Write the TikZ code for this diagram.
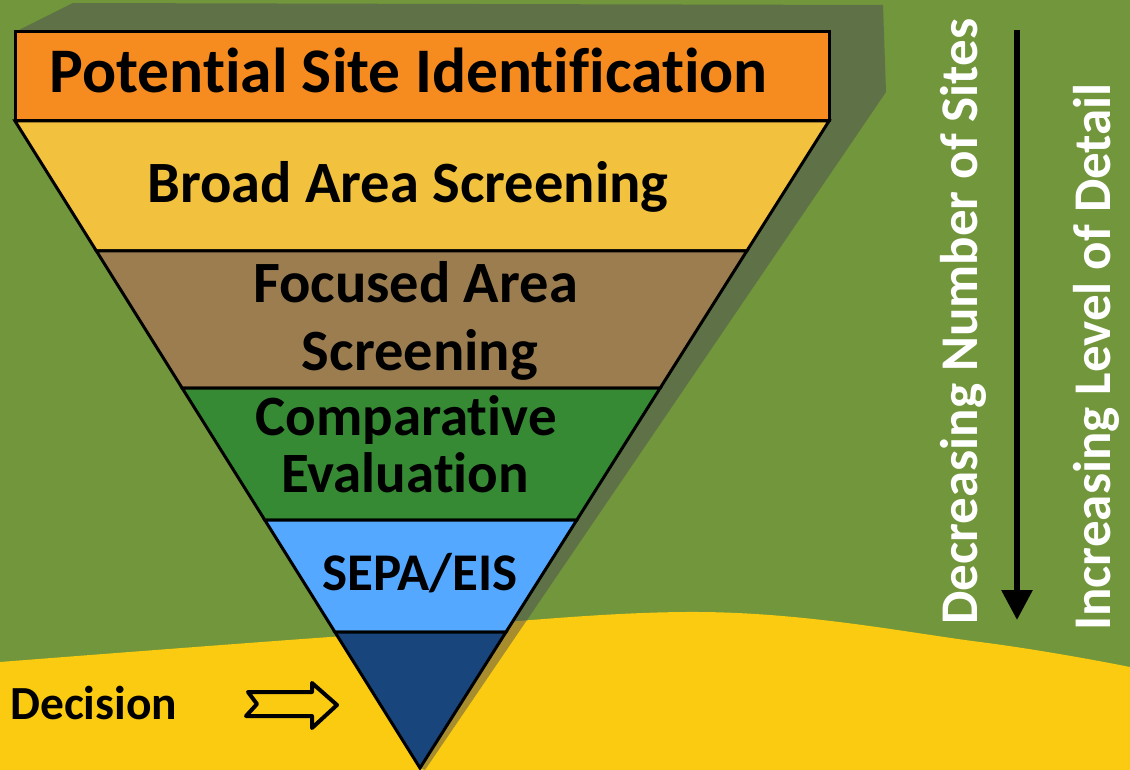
\documentclass[tikz,border=0pt]{standalone}
\usepackage{fontspec}
\setmainfont{Carlito}[Ligatures={NoCommon}]
\usetikzlibrary{arrows.meta}
\definecolor{bggreen}{RGB}{114,150,59}
\definecolor{field}{RGB}{250,203,16}
\definecolor{shadowgrey}{RGB}{73,70,83}
\definecolor{bandorange}{RGB}{246,139,31}
\definecolor{bandyellow}{RGB}{242,193,62}
\definecolor{bandbrown}{RGB}{155,125,80}
\definecolor{bandgreen}{RGB}{54,138,52}
\definecolor{bandlblue}{RGB}{85,168,255}
\definecolor{banddblue}{RGB}{24,69,124}
\tikzset{
  band/.style={draw=black, line width=3pt, line join=miter},
  lbl/.style={inner sep=0pt, anchor=base, text=black, font=\bfseries\fontsize{58.5}{64}\selectfont},
  sidelbl/.style={inner sep=0pt, anchor=base west, rotate=90, text=white, font=\bfseries\fontsize{53}{60}\selectfont},
}
\begin{document}
\begin{tikzpicture}[x=1pt,y=-1pt]
\useasboundingbox (0,0) rectangle (1130,770);
% background
\fill[bggreen] (0,0) rectangle (1130,770);
\fill[field] plot[smooth, tension=0.6] coordinates {(0,662) (330,637) (700,612) (980,642) (1130,667)} -- (1130,770) -- (0,770) -- cycle;
% 3D shadow
\fill[shadowgrey, opacity=0.46] (15,32) -- (73,3) -- (883,5) -- (886,92) -- (425,770) -- (420,768) -- (15,121) -- cycle;
% corner coordinates
\coordinate (tl) at (15,121);
\coordinate (tr) at (829,121);
\coordinate (tip) at (420,768);
% bands
\filldraw[band, fill=bandyellow] (15,121) -- (829,121) -- (746.8,251) -- (96.4,251) -- cycle;
\filldraw[band, fill=bandbrown] (96.4,251) -- (746.8,251) -- (660.2,388) -- (182.1,388) -- cycle;
\filldraw[band, fill=bandgreen] (182.1,388) -- (660.2,388) -- (576.8,520) -- (264.8,520) -- cycle;
\filldraw[band, fill=bandlblue] (264.8,520) -- (576.8,520) -- (506,632) -- (334.9,632) -- cycle;
\filldraw[band, fill=banddblue] (334.9,632) -- (506,632) -- (tip) -- cycle;
\filldraw[band, fill=bandorange] (15,32) rectangle (829,121);
% labels
\node[lbl, font=\bfseries\fontsize{63.5}{70}\selectfont] (pot) at (408.5,93) {Potential Site Identification};
\node[lbl] (broad) at (408,203) {Broad Area Screening};
\node[lbl] (focA) at (415.5,302) {Focused Area};
\node[lbl] (focB) at (420,370) {Screening};
\node[lbl, font=\bfseries\fontsize{57}{62}\selectfont] (compA) at (406,435) {Comparative};
\node[lbl, font=\bfseries\fontsize{57}{62}\selectfont] (compB) at (405,492) {Evaluation};
\node[lbl, font=\bfseries\fontsize{53}{58}\selectfont] (sepa) at (420,590) {SEPA/EIS};
\node[inner sep=0pt, anchor=base west, font=\bfseries\fontsize{47.5}{52}\selectfont] (dec) at (10,719) {Decision};
% decision arrow (outlined)
\draw[line width=4pt, line join=round, line cap=round] (248,692) -- (257,704) -- (246,716) -- (312,716) -- (312,728) -- (337,705) -- (312,683) -- (312,692) -- cycle;
% side labels
\node[sidelbl] (decr) at (977,625) {Decreasing Number of Sites};
\node[sidelbl] (incr) at (1110,631) {Increasing Level of Detail};
\coordinate (arrtop) at (1017,30);
\coordinate (arrbot) at (1017,620);
\draw[line width=6pt, -{Triangle[width=30pt,length=30pt]}] (arrtop) -- (arrbot);
\end{tikzpicture}
\end{document}
